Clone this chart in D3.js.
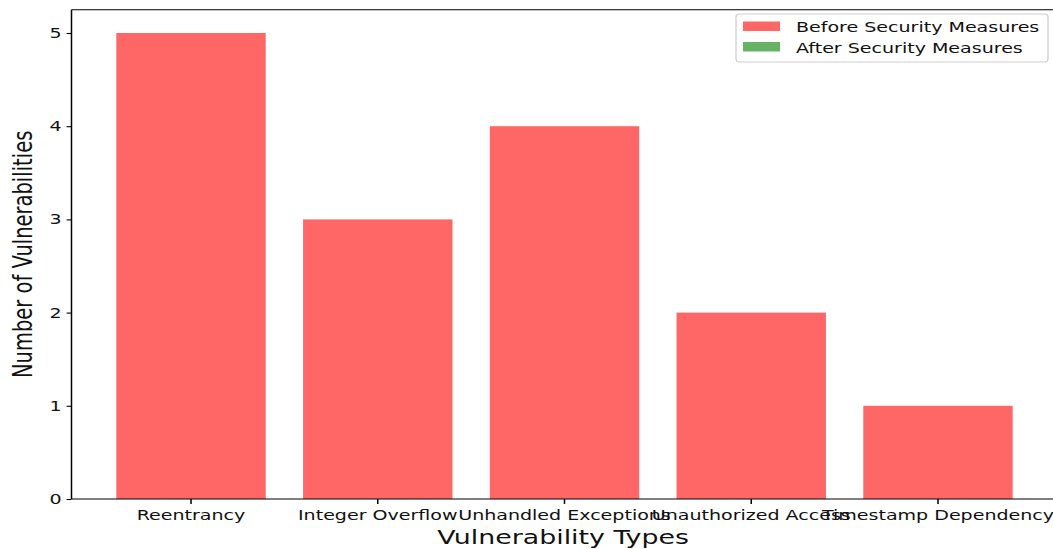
<!DOCTYPE html>
<html>
<head>
<meta charset="utf-8">
<script src="https://cdn.jsdelivr.net/npm/d3@7"></script>
<style>
  html, body { margin: 0; padding: 0; background: #fff; }
  svg { display: block; }
  text { font-family: "DejaVu Sans", sans-serif; fill: #111; }
</style>
</head>
<body>
<div id="chart"></div>
<script>
// chart data
const categories = ["Reentrancy", "Integer Overflow", "Unhandled Exceptions", "Unauthorized Access", "Timestamp Dependency"];
const beforeValues = [5, 3, 4, 2, 1];
const afterValues = [0, 0, 0, 0, 0];
const yTicks = [0, 1, 2, 3, 4, 5];
const seriesNames = ["Before Security Measures", "After Security Measures"];
const seriesColors = ["#ff6666", "#66b366"];

// the picture is a stretched figure: draw in a narrower space and let the viewBox widen it
const W = 1053, H = 549;
const SX = 1.3605;
const vw = W / SX;

const svg = d3.select("#chart").append("svg")
  .attr("width", W).attr("height", H)
  .attr("viewBox", `0 0 ${vw} ${H}`)
  .attr("preserveAspectRatio", "none");

const pLeft = 71.5 / SX, pRight = 1057.5 / SX, pTop = 9.7, pBottom = 499;

const x = d3.scaleBand().domain(categories).range([pLeft, pRight])
  .paddingInner(0.2).paddingOuter(0.24);
const y = d3.scaleLinear().domain([0, 5.25]).range([pBottom, pTop]);

const g = svg.append("g");

// bars: before, then after (zero height) on top
const series = [beforeValues, afterValues];
series.forEach((vals, si) => {
  g.append("g").selectAll("rect")
    .data(vals)
    .join("rect")
    .attr("x", (d, i) => x(categories[i]))
    .attr("width", x.bandwidth())
    .attr("y", d => y(d))
    .attr("height", d => y(0) - y(d))
    .attr("fill", seriesColors[si]);
});

// axes
const xAxis = g.append("g").attr("transform", `translate(0,${pBottom})`)
  .call(d3.axisBottom(x).tickSize(4.9).tickPadding(6.2).tickSizeOuter(0));
const yAxis = g.append("g").attr("transform", `translate(${pLeft},0)`)
  .call(d3.axisLeft(y).tickValues(yTicks).tickFormat(d3.format("d")).tickSize(4.9 / SX).tickPadding(4.9 / SX).tickSizeOuter(0));

[xAxis, yAxis].forEach(a => {
  a.select(".domain").remove();
  a.selectAll(".tick line").attr("stroke", "#000").attr("stroke-width", 1.1);
  a.selectAll(".tick text").attr("font-size", 14).attr("fill", "#111")
    .style("font-family", "DejaVu Sans");
});

// spines (right spine lies past the picture edge)
g.append("line").attr("x1", pLeft).attr("x2", pLeft).attr("y1", pTop).attr("y2", pBottom)
  .attr("stroke", "#000").attr("stroke-width", 1.1);
g.append("line").attr("x1", pLeft).attr("x2", pRight).attr("y1", pBottom).attr("y2", pBottom)
  .attr("stroke", "#000").attr("stroke-width", 1.1);
g.append("line").attr("x1", pLeft).attr("x2", pRight).attr("y1", pTop).attr("y2", pTop)
  .attr("stroke", "#000").attr("stroke-width", 1.1);

// axis titles
svg.append("text")
  .attr("x", (pLeft + pRight) / 2 - 1).attr("y", 544)
  .attr("text-anchor", "middle")
  .attr("font-size", 19.7)
  .text("Vulnerability Types");

svg.append("text")
  .attr("transform", `translate(${23 / SX},${(pTop + pBottom) / 2}) rotate(-90)`)
  .attr("text-anchor", "middle")
  .attr("dy", "0.35em")
  .attr("font-size", 19.5)
  .text("Number of Vulnerabilities");

// legend
const lg = svg.append("g").attr("transform", `translate(${736 / SX},14)`);
lg.append("rect")
  .attr("width", (1048 - 736) / SX).attr("height", 48)
  .attr("rx", 3 / SX).attr("ry", 3)
  .attr("fill", "#fff").attr("fill-opacity", 0.8)
  .attr("stroke", "#d0d0d0").attr("stroke-width", 1);
seriesNames.forEach((name, i) => {
  const row = lg.append("g").attr("transform", `translate(0,${7.5 + i * 20.5})`);
  row.append("rect")
    .attr("x", 7 / SX).attr("y", 0)
    .attr("width", 37 / SX).attr("height", 9.5)
    .attr("fill", seriesColors[i]);
  row.append("text")
    .attr("x", 60 / SX).attr("y", 6)
    .attr("dy", "0.35em")
    .attr("font-size", 14)
    .text(name);
});
</script>
</body>
</html>
